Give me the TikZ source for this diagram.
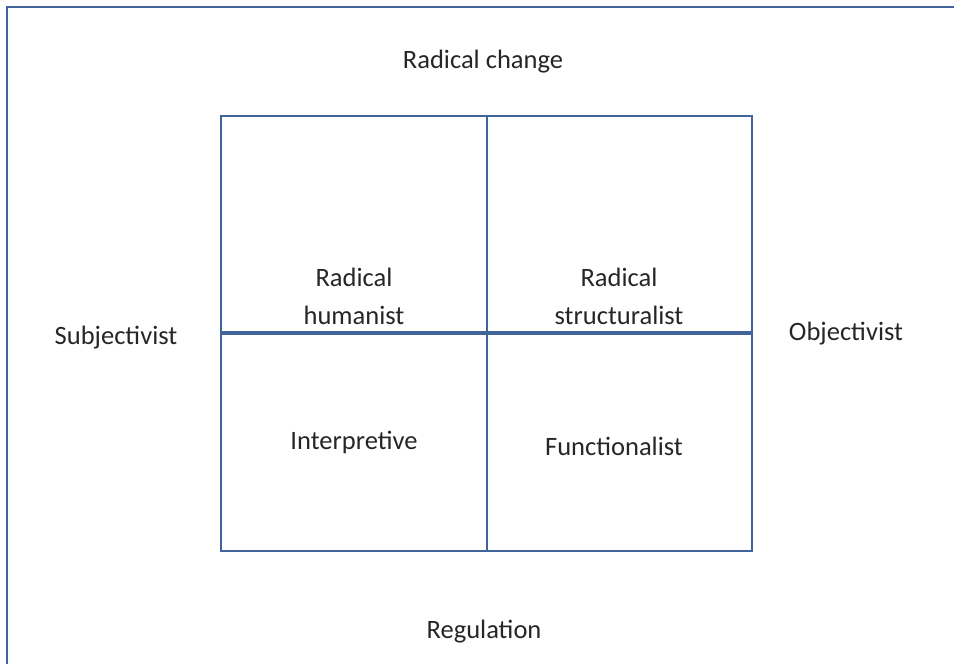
\documentclass[tikz,border=0pt]{standalone}
\usepackage{fontspec}
\setmainfont{Carlito}
\definecolor{frame}{HTML}{41659A}
\begin{document}
\begin{tikzpicture}[x=0.75pt,y=-0.75pt,
  lbl/.style={font=\fontsize{19.9}{28.5}\selectfont, align=center, text=black!85, inner sep=0pt},
  edge/.style={draw=frame, line width=2pt}]
\useasboundingbox (0,0) rectangle (954,664);
% outer frame
\draw[edge] (7,664) -- (7,7) -- (954,7);
% grid
\coordinate (tl) at (221,116);
\coordinate (br) at (752,551);
\coordinate (mt) at (487,116);
\coordinate (mb) at (487,551);
\coordinate (ml) at (221,333);
\coordinate (mr) at (752,333);
\draw[edge] (tl) rectangle (br);
\draw[edge] (mt) -- (mb);
\draw[draw=frame, line width=2.6pt] (ml) -- (mr);
% labels
\node[lbl] (top) at (483,62) {Radical change};
\node[lbl] (bot) at (484,632) {Regulation};
\node[lbl] (left) at (116,338) {Subjectivist};
\node[lbl] (right) at (846,334) {Objectivist};
\node[lbl] (rh) at (354,296) {Radical\\humanist};
\node[lbl] (rs) at (619,296) {Radical\\structuralist};
\node[lbl] (in) at (354,442) {Interpretive};
\node[lbl] (fu) at (614,446) {Functionalist};
\end{tikzpicture}
\end{document}
